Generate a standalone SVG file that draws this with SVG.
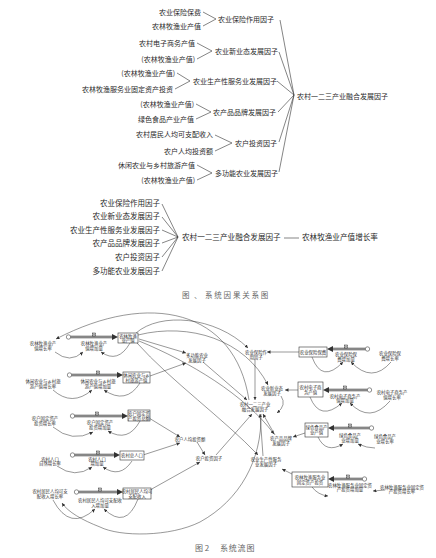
<svg xmlns="http://www.w3.org/2000/svg" width="436" height="558" viewBox="0 0 436 558">
<defs>
<style>
text{font-family:"Noto Sans CJK SC","Noto Sans",sans-serif;fill:#2a2a2a}
.c{font-size:7px}
.e{text-anchor:end}
.c2{font-size:7.5px}
.f{font-size:4.4px;text-anchor:middle;fill:#333}
.cap{font-size:7.5px;fill:#666}
.k{stroke:#333;stroke-width:0.6;fill:none}
.l{stroke:#333;stroke-width:0.5;fill:none}
.box{fill:#fff;stroke:#333;stroke-width:0.6}
.po{stroke:#444;stroke-width:2.4;fill:none}
.pi{stroke:#d8d8d8;stroke-width:0.9;fill:none}
.cl{fill:#fff;stroke:#444;stroke-width:0.6}
.vv{fill:#fff;stroke:#333;stroke-width:0.5}
</style>
<marker id="a" viewBox="0 0 6 6" refX="6" refY="3" markerWidth="3.5" markerHeight="3.5" markerUnits="userSpaceOnUse" orient="auto"><path d="M0,0 L6,3 L0,6 z" fill="#333"/></marker>
</defs>
<rect width="436" height="558" fill="#fff"/>

<!-- Causal diagram top -->
<g id="causal1">
<g id="t1a"><text class="c e" x="201" y="14.5">农业保险保费</text></g>
<g id="t1b"><text class="c e" x="201" y="28.5">农林牧渔业产值</text></g>
<g id="t1f"><text class="c" x="218" y="21.5">农业保险作用因子</text></g>
<g id="t2a"><text class="c e" x="195" y="45.5">农村电子商务产值</text></g>
<g id="t2b"><text class="c e" x="195" y="61.5">(农林牧渔业产值)</text></g>
<g id="t2f"><text class="c" x="215" y="53.5">农业新业态发展因子</text></g>
<g id="t3a"><text class="c e" x="175" y="75.5">(农林牧渔业产值)</text></g>
<g id="t3b"><text class="c e" x="173" y="91.5">农林牧渔服务业固定资产投资</text></g>
<g id="t3f"><text class="c" x="193" y="83.5">农业生产性服务业发展因子</text></g>
<g id="t4a"><text class="c e" x="194" y="106.5">(农林牧渔业产值)</text></g>
<g id="t4b"><text class="c e" x="194" y="121.5">绿色食品产业产值</text></g>
<g id="t4f"><text class="c" x="213" y="114.5">农产品品牌发展因子</text></g>
<g id="t5a"><text class="c e" x="213" y="136.5">农村居民人均可支配收入</text></g>
<g id="t5b"><text class="c e" x="213" y="153.5">农户人均投资额</text></g>
<g id="t5f"><text class="c" x="235" y="145.5">农户投资因子</text></g>
<g id="t6a"><text class="c e" x="195" y="167.5">休闲农业与乡村旅游产值</text></g>
<g id="t6b"><text class="c e" x="195" y="182.5">(农林牧渔业产值)</text></g>
<g id="t6f"><text class="c" x="215" y="175.5">多功能农业发展因子</text></g>
<g id="tfus"><text class="c" x="297" y="98.5">农村一二三产业融合发展因子</text></g>
</g>
<g id="causal1-links">
<path class="k" d="M203,12 L216,19 L203,26"/>
<path class="k" d="M197,43 L212,51 L197,59"/>
<path class="k" d="M177,73 L190,81 L175,89"/>
<path class="k" d="M196,104 L211,112 L196,119"/>
<path class="k" d="M215,135 L232,143 L215,151"/>
<path class="k" d="M197,165 L212,173 L197,180"/>
<path class="k" d="M280,20 L294,95 M279,52 L294,95 M277,81 L294,95 M278,112 L294,95 M279,142 L294,95 M279,172 L294,95"/>
</g>

<!-- Causal diagram second -->
<g id="causal2">
<g id="u1"><text class="c2 e" x="160" y="205.5">农业保险作用因子</text></g>
<g id="u2"><text class="c2 e" x="160" y="218.5">农业新业态发展因子</text></g>
<g id="u3"><text class="c2 e" x="160" y="232.5">农业生产性服务业发展因子</text></g>
<g id="u4"><text class="c2 e" x="160" y="245.5">农产品品牌发展因子</text></g>
<g id="u5"><text class="c2 e" x="160" y="259.5">农户投资因子</text></g>
<g id="u6"><text class="c2 e" x="160" y="273.5">多功能农业发展因子</text></g>
<g id="ufus"><text class="c2" x="182" y="239.7" style="font-size:7.6px">农村一二三产业融合发展因子</text></g>
<g id="ugr"><text class="c2" x="302" y="239.7" style="font-size:7.6px">农林牧渔业产值增长率</text></g>
</g>
<g id="causal2-links">
<path class="k" d="M162,204 L178,237 M162,217 L178,237 M162,230 L178,237 M162,243 L178,237 M162,257 L178,237 M162,271 L178,237"/>
<path class="k" d="M284,238 L299,238"/>
</g>
<g id="cap1">
<text class="cap" x="182" y="298">图</text>
<text class="cap" x="194" y="298">、</text>
<text class="cap" x="205" y="298" style="letter-spacing:1.8px">系统因果关系图</text>
</g>

<!-- Flow diagram: connectors -->
<g id="flow-links">
<!-- pipes -->
<path class="po" d="M70.5,337 H113 M71.5,375 H118 M74.5,416 H123 M74.5,455 H115 M78.5,492 H118"/>
<path class="pi" d="M70.5,337 H113 M71.5,375 H118 M74.5,416 H123 M74.5,455 H115 M78.5,492 H118"/>
<path class="po" d="M365.5,349 H332 M367.5,390 H328 M369.5,428 H333 M362.5,479 H333"/>
<path class="pi" d="M365.5,349 H332 M367.5,390 H328 M369.5,428 H333 M362.5,479 H333"/>
<g fill="#333">
<polygon points="118,337 112,334 112,340"/>
<polygon points="123,375 117,372 117,378"/>
<polygon points="128,416 122,413 122,419"/>
<polygon points="120,455 114,452 114,458"/>
<polygon points="123,492 117,489 117,495"/>
<polygon points="327,349 333,346 333,352"/>
<polygon points="323,390 329,387 329,393"/>
<polygon points="328,428 334,425 334,431"/>
<polygon points="328,479 334,476 334,482"/>
</g>
<!-- stock/aux to rate loops -->
<g marker-end="url(#a)">
<path class="l" d="M130,343 Q118,364 101,352"/>
<path class="l" d="M55,352 Q70,364 83,352"/>
<path class="l" d="M140,383 Q126,405 104,390"/>
<path class="l" d="M53,390 Q72,407 92,390"/>
<path class="l" d="M140,421 Q128,443 108,431"/>
<path class="l" d="M53,427 Q72,443 93,432"/>
<path class="l" d="M132,461 Q120,479 103,467"/>
<path class="l" d="M57,466 Q75,479 92,467"/>
<path class="l" d="M138,499 Q126,530 104,509"/>
<path class="l" d="M53,500 Q70,532 95,509"/>
<path class="l" d="M312,357 Q322,384 343,362"/>
<path class="l" d="M391,362 Q372,384 351,362"/>
<path class="l" d="M310,397 Q320,422 342,403"/>
<path class="l" d="M390,401 Q370,424 350,403"/>
<path class="l" d="M318,437 Q326,454 343,444"/>
<path class="l" d="M375,448 Q367,448 358,444"/>
<path class="l" d="M312,487 Q318,495 328,496"/>
<path class="l" d="M385,490 L373,491"/>
<!-- stock outputs -->
<path class="l" d="M299,352 L267,352"/>
<path class="l" d="M298,390 L285,390"/>
<path class="l" d="M305,433 L293,437"/>
<path class="l" d="M292,474 L282,469"/>
<path class="l" d="M139,339 L186,353"/>
<path class="l" d="M150,376 L186,363"/>
<path class="l" d="M136,333 C160,312 215,316 248,348"/>
<path class="l" d="M138,335 C190,322 245,340 268,385"/>
<path class="l" d="M139,341 C190,362 245,395 274,434"/>
<path class="l" d="M137,343 C170,380 225,420 258,455"/>
<path class="l" d="M149,418 L180,437"/>
<path class="l" d="M143,455 L180,443"/>
<path class="l" d="M150,490 L200,462"/>
<path class="l" d="M197,442 L205,455"/>
<!-- factors to fusion -->
<path class="l" d="M203,362 L247,400"/>
<path class="l" d="M255,360 L255,400"/>
<path class="l" d="M281,396 Q287,405 277,413"/>
<path class="l" d="M275,435 L263,414"/>
<path class="l" d="M263,456 L260,414"/>
<path class="l" d="M216,455 L252,414"/>
<!-- fusion feedback -->
<path class="l" d="M249,400 C235,310 150,290 56,339"/>
<path class="l" d="M261,414 C262,460 240,500 200,522 C170,537 120,537 100,527 C82,520 68,512 62,503"/>
</g>
</g>

<!-- Flow diagram: nodes -->
<g id="stock1"><rect class="box" x="118" y="333" width="20" height="10"/><text class="f" x="128" y="337.5">农林牧渔</text><text class="f" x="128" y="342">业产值</text></g>
<g id="stock2"><rect class="box" x="123" y="372" width="27" height="11"/><text class="f" x="136.5" y="377">休闲农业与乡</text><text class="f" x="136.5" y="381.5">村旅游产值</text></g>
<g id="stock3"><rect class="box" x="128" y="410" width="22" height="11"/><text class="f" x="139" y="415">农户固定资</text><text class="f" x="139" y="419.5">产投资总额</text></g>
<g id="stock4"><rect class="box" x="120" y="451" width="24" height="9"/><text class="f" x="132" y="457">农村总人口</text></g>
<g id="stock5"><rect class="box" x="123" y="488" width="28" height="11"/><text class="f" x="137" y="493">农村居民人均可</text><text class="f" x="137" y="497.5">支配收入</text></g>
<g id="stock6"><rect class="box" x="299" y="347" width="28" height="10"/><text class="f" x="313" y="353.5">农业保险保费</text></g>
<g id="stock7"><rect class="box" x="298" y="382" width="25" height="15"/><text class="f" x="310.5" y="388.5">农村电子商</text><text class="f" x="310.5" y="393.5">务产值</text></g>
<g id="stock8"><rect class="box" x="305" y="423" width="23" height="14"/><text class="f" x="316.5" y="429">绿色食品产</text><text class="f" x="316.5" y="434">业产值</text></g>
<g id="stock9"><rect class="box" x="292" y="472" width="36" height="15"/><text class="f" x="310" y="478.5">农林牧渔服务业</text><text class="f" x="310" y="483.5">固定资产投资</text></g>

<g id="clouds">
<circle class="cl" cx="68.5" cy="337" r="2.2"/>
<circle class="cl" cx="69.5" cy="375" r="2.2"/>
<circle class="cl" cx="72.5" cy="416" r="2.2"/>
<circle class="cl" cx="72.5" cy="455" r="2.2"/>
<circle class="cl" cx="76.5" cy="492" r="2.2"/>
<circle class="cl" cx="367.5" cy="349" r="2.2"/>
<circle class="cl" cx="369.5" cy="390" r="2.2"/>
<circle class="cl" cx="371.5" cy="428" r="2.2"/>
<circle class="cl" cx="364.5" cy="479" r="2.2"/>
</g>

<g id="valves">
<g id="v1"><rect class="vv" x="92.5" y="333" width="3" height="3"/><path class="l" d="M92.5,333 L95.5,336 M95.5,333 L92.5,336"/></g>
<g id="v2"><rect class="vv" x="96.5" y="371" width="3" height="3"/><path class="l" d="M96.5,371 L99.5,374 M99.5,371 L96.5,374"/></g>
<g id="v3"><rect class="vv" x="95.5" y="412" width="3" height="3"/><path class="l" d="M95.5,412 L98.5,415 M98.5,412 L95.5,415"/></g>
<g id="v4"><rect class="vv" x="96.5" y="451" width="3" height="3"/><path class="l" d="M96.5,451 L99.5,454 M99.5,451 L96.5,454"/></g>
<g id="v5"><rect class="vv" x="98.5" y="488" width="3" height="3"/><path class="l" d="M98.5,488 L101.5,491 M101.5,488 L98.5,491"/></g>
<g id="v6"><rect class="vv" x="344.5" y="345" width="3" height="3"/><path class="l" d="M344.5,345 L347.5,348 M347.5,345 L344.5,348"/></g>
<g id="v7"><rect class="vv" x="343.5" y="386" width="3" height="3"/><path class="l" d="M343.5,386 L346.5,389 M346.5,386 L343.5,389"/></g>
<g id="v8"><rect class="vv" x="348.5" y="424" width="3" height="3"/><path class="l" d="M348.5,424 L351.5,427 M351.5,424 L348.5,427"/></g>
<g id="v9"><rect class="vv" x="346.5" y="475" width="3" height="3"/><path class="l" d="M346.5,475 L349.5,478 M349.5,475 L346.5,478"/></g>
</g>

<g id="rates">
<g id="r1"><text class="f" x="94" y="344.5">农林牧渔业产</text><text class="f" x="94" y="349.5">值增加量</text></g>
<g id="r2"><text class="f" x="98" y="382.5">休闲农业与乡村旅</text><text class="f" x="98" y="387.5">游产值增加量</text></g>
<g id="r3"><text class="f" x="100" y="423.5">农户固定资产</text><text class="f" x="100" y="428.5">投资增加量</text></g>
<g id="r4"><text class="f" x="97" y="460.5">农村人口</text><text class="f" x="97" y="465">增加量</text></g>
<g id="r5"><text class="f" x="100" y="501.5">农村居民人均可支配收</text><text class="f" x="100" y="506.5">入增加量</text></g>
<g id="r6"><text class="f" x="346" y="355.5">农业保险保</text><text class="f" x="346" y="360.5">费增加量</text></g>
<g id="r7"><text class="f" x="345" y="397.5">农村电子商务产</text><text class="f" x="345" y="402">值增加量</text></g>
<g id="r8"><text class="f" x="350" y="436.5">绿色食品产</text><text class="f" x="350" y="441.5">业增加量</text></g>
<g id="r9"><text class="f" x="350" y="486.5">农林牧渔服务业固定资</text><text class="f" x="350" y="491">产投资增加量</text></g>
</g>

<g id="auxes">
<g id="g1"><text class="f" x="43" y="344.5">农林牧渔业产</text><text class="f" x="43" y="349.5">值增长率</text></g>
<g id="g2"><text class="f" x="43" y="382.5">休闲农业与乡村旅</text><text class="f" x="43" y="387.5">游产值增长率</text></g>
<g id="g3"><text class="f" x="45" y="419.5">农户固定资产</text><text class="f" x="45" y="424.5">投资增长率</text></g>
<g id="g4"><text class="f" x="50" y="460.5">农村人口</text><text class="f" x="50" y="465">自然增长率</text></g>
<g id="g5"><text class="f" x="50" y="492.5">农村居民人均可支</text><text class="f" x="50" y="497.5">配收入增长率</text></g>
<g id="g6"><text class="f" x="390" y="354.5">农业保险保</text><text class="f" x="390" y="359.5">费增长率</text></g>
<g id="g7"><text class="f" x="392" y="393.5">农村电子商务产</text><text class="f" x="392" y="398.5">值增长率</text></g>
<g id="g8"><text class="f" x="385" y="437.5">绿色食品产</text><text class="f" x="385" y="442.5">业增长率</text></g>
<g id="g9"><text class="f" x="402" y="488.5">农林牧渔服务业固定资</text><text class="f" x="402" y="493">产投资增长率</text></g>
<g id="fmf"><text class="f" x="197" y="356.5">多功能农业</text><text class="f" x="197" y="361.5">发展因子</text></g>
<g id="fins"><text class="f" x="256" y="354">农业保险作</text><text class="f" x="256" y="358.5">用因子</text></g>
<g id="fnew"><text class="f" x="272" y="389.5">农业新业态</text><text class="f" x="272" y="394.5">发展因子</text></g>
<g id="ffus"><text class="f" x="255" y="405.5">农村一二三产业</text><text class="f" x="255" y="410.5">融合发展因子</text></g>
<g id="fbrand"><text class="f" x="281" y="439.5">农产品品牌</text><text class="f" x="281" y="444.5">发展因子</text></g>
<g id="fpc"><text class="f" x="190" y="440.5">农户人均投资额</text></g>
<g id="finv"><text class="f" x="209" y="459.5">农户投资因子</text></g>
<g id="fsvc"><text class="f" x="266" y="460.5">农业生产性服务</text><text class="f" x="266" y="465.5">业发展因子</text></g>
</g>

<g id="cap2">
<text class="cap" x="195" y="551" style="font-size:8px">图 2</text>
<text class="cap" x="220" y="551" style="font-size:8px;letter-spacing:0.8px">系统流图</text>
</g>
</svg>
